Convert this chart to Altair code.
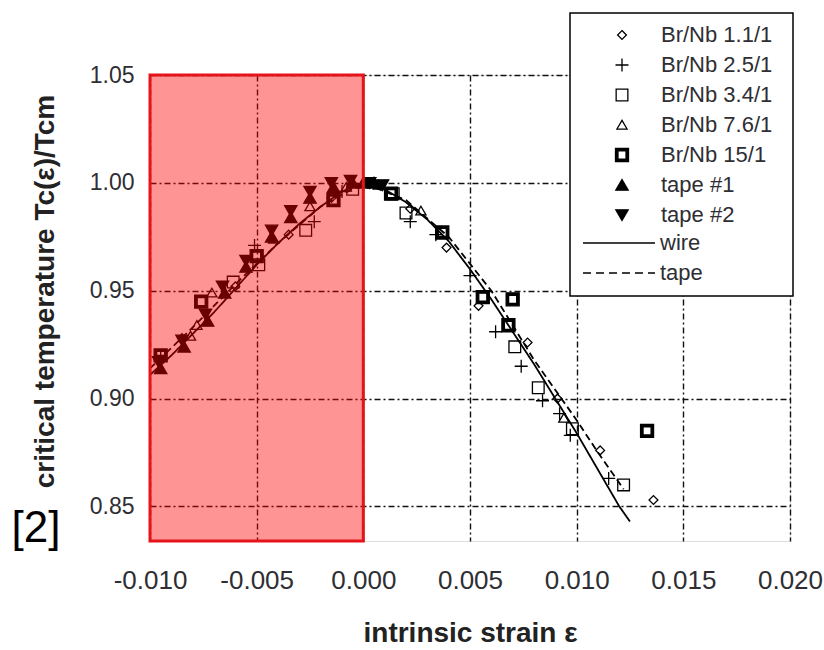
import altair as alt
import pandas as pd

# ---------------- data ----------------
series_names = ["Br/Nb 1.1/1", "Br/Nb 2.5/1", "Br/Nb 3.4/1", "Br/Nb 7.6/1",
                "Br/Nb 15/1", "tape #1", "tape #2"]

br11_x = [-0.0085, -0.0060, -0.0035, -0.0015, 0.0005, 0.0022, 0.0039, 0.0054, 0.0077, 0.0091, 0.0111, 0.0136]
br11_y = [0.928, 0.952, 0.976, 0.993, 1.000, 0.988, 0.970, 0.943, 0.926, 0.900, 0.876, 0.853]

br25_x = [-0.0095, -0.0051, -0.0023, -0.0010, 0.0022, 0.0034, 0.0050, 0.0062, 0.0074, 0.0084, 0.0092, 0.0097, 0.0115]
br25_y = [0.920, 0.971, 0.982, 0.996, 0.982, 0.976, 0.957, 0.931, 0.915, 0.899, 0.893, 0.883, 0.863]

br34_x = [-0.0061, -0.0049, -0.0027, -0.0005, 0.0014, 0.0020, 0.0071, 0.0082, 0.0098, 0.0122]
br34_y = [0.954, 0.962, 0.978, 0.997, 0.995, 0.986, 0.924, 0.905, 0.886, 0.860]

br76_x = [-0.0081, -0.0078, -0.0071, -0.0042, -0.0025, -0.0008, 0.0007, 0.0027, 0.0094]
br76_y = [0.929, 0.934, 0.949, 0.974, 0.989, 0.998, 0.999, 0.987, 0.891]

br15_x = [-0.0095, -0.0076, -0.0050, -0.0014, 0.0013, 0.0037, 0.0056, 0.0068, 0.0070, 0.0133]
br15_y = [0.920, 0.945, 0.966, 0.992, 0.995, 0.977, 0.947, 0.934, 0.946, 0.885]

tape1_x = [-0.0095, -0.0084, -0.0073, -0.0065, -0.0055, -0.0043, -0.0034, -0.0025, -0.0014, -0.0005, 0.0000, 0.0005]
tape1_y = [0.914, 0.924, 0.936, 0.949, 0.961, 0.975, 0.984, 0.993, 0.998, 1.000, 1.000, 1.000]

tape2_x = [-0.0096, -0.0085, -0.0074, -0.0066, -0.0055, -0.0043, -0.0034, -0.0025, -0.0015, -0.0006, 0.0003, 0.0009]
tape2_y = [0.917, 0.927, 0.939, 0.952, 0.964, 0.978, 0.987, 0.996, 1.000, 1.001, 1.000, 0.999]

wire_x = [-0.0100, -0.0090, -0.0080, -0.0070, -0.0060, -0.0050, -0.0040, -0.0030, -0.0020, -0.0010, 0.0000,
          0.0010, 0.0020, 0.0030, 0.0040, 0.0050, 0.0060, 0.0070, 0.0080, 0.0090, 0.0100, 0.0110, 0.0120, 0.0125]
wire_y = [0.911, 0.920, 0.930, 0.940, 0.951, 0.962, 0.972, 0.981, 0.989, 0.996, 1.000,
          0.997, 0.991, 0.983, 0.973, 0.960, 0.946, 0.931, 0.916, 0.900, 0.884, 0.867, 0.850, 0.843]

tape_x = [-0.0100, -0.0080, -0.0060, -0.0040, -0.0020, 0.0000, 0.0020, 0.0040, 0.0060, 0.0080, 0.0090, 0.0100, 0.0110, 0.0122]
tape_y = [0.914, 0.933, 0.953, 0.972, 0.989, 1.000, 0.992, 0.975, 0.950, 0.918, 0.904, 0.890, 0.875, 0.858]

shade_x = [-0.010]
shade_x2 = [0.000]

x_ticks = [-0.010, -0.005, 0.000, 0.005, 0.010, 0.015, 0.020]
y_ticks = [0.85, 0.90, 0.95, 1.00, 1.05]
X_MIN, X_MAX = -0.010, 0.020
Y_MIN, Y_MAX = 0.834, 1.05

# ---------------- tables ----------------
point_sets = [(br11_x, br11_y), (br25_x, br25_y), (br34_x, br34_y), (br76_x, br76_y),
              (br15_x, br15_y), (tape1_x, tape1_y), (tape2_x, tape2_y)]
rows = []
for name, (xs, ys) in zip(series_names, point_sets):
    for xv, yv in zip(xs, ys):
        rows.append({"x": xv, "y": yv, "series": name})
pts = pd.DataFrame(rows)

line_rows = [{"x": a, "y": b, "curve": "wire"} for a, b in zip(wire_x, wire_y)] + \
            [{"x": a, "y": b, "curve": "tape"} for a, b in zip(tape_x, tape_y)]
lines_df = pd.DataFrame(line_rows)

shade_df = pd.DataFrame({"x": shade_x, "x2": shade_x2})
one = pd.DataFrame({"k": [0]})

FONT = "Liberation Sans"
LBL = "#2e2e33"

shape_paths = [
    "M0,-0.68L0.68,0L0,0.68L-0.68,0Z",                               # diamond
    "M-1,0L1,0M0,-1L0,1",                                             # plus
    "M-0.9,-0.9L0.9,-0.9L0.9,0.9L-0.9,0.9Z",                          # thin square
    "M0,-0.72L0.78,0.62L-0.78,0.62Z",                                 # open triangle
    "M-1,-1L1,-1L1,1L-1,1Z M-0.62,-0.62L-0.62,0.62L0.62,0.62L0.62,-0.62Z",  # bold square
    "M0,-0.85L0.95,0.8L-0.95,0.8Z",                                   # filled triangle up
    "M0,0.85L0.95,-0.8L-0.95,-0.8Z",                                  # filled triangle down
]
fills = ["transparent", "transparent", "transparent", "transparent", "black", "black", "black"]
strokes = ["black"] * 7

xscale = alt.Scale(domain=[X_MIN, X_MAX], nice=False, zero=False)
yscale = alt.Scale(domain=[Y_MIN, Y_MAX], nice=False, zero=False)

GRID = dict(grid=True, gridDash=[6, 3, 2, 3], gridColor="#111", gridWidth=1.4, gridOpacity=1)

xaxis = alt.Axis(values=x_ticks, labelExpr="replace(format(datum.value, '.3f'), '\u2212', '-')",
                 labelFontSize=26, labelFont=FONT, labelColor=LBL, labelPadding=26, labelFlush=False,
                 ticks=False, domain=False, **GRID,
                 title="intrinsic strain \u03b5", titleFontSize=28, titleFont=FONT,
                 titleFontWeight="bold", titleColor="#222", titleY=100, titleBaseline="alphabetic")
yaxis = alt.Axis(values=y_ticks, format=".2f", labelFontSize=23, labelFont=FONT, labelColor=LBL,
                 labelPadding=16, ticks=False, domain=False, labelFlush=False, **GRID,
                 title="critical temperature Tc(\u03b5)/Tcm", titleFontSize=28, titleFont=FONT,
                 titleFontWeight="bold", titleColor="#222", titleX=-105, titleY=216,
                 titleBaseline="middle", titleAlign="center", titleAngle=270)

legend = alt.Legend(title=None, orient="none", legendX=461, legendY=-51, labelFontSize=22,
                    labelFont=FONT, labelColor=LBL, rowPadding=8, labelOffset=28, padding=0,
                    symbolSize=169, symbolStrokeColor="black", symbolStrokeWidth=1.3)

points = alt.Chart(pts).mark_point(strokeWidth=1.3, size=169, opacity=1).encode(
    x=alt.X("x:Q", scale=xscale, axis=xaxis),
    y=alt.Y("y:Q", scale=yscale, axis=yaxis),
    shape=alt.Shape("series:N", scale=alt.Scale(domain=series_names, range=shape_paths), legend=legend),
    fill=alt.Fill("series:N", scale=alt.Scale(domain=series_names, range=fills), legend=legend),
    stroke=alt.Stroke("series:N", scale=alt.Scale(domain=series_names, range=strokes), legend=legend),
)

lines = alt.Chart(lines_df).mark_line(color="black", strokeWidth=1.8).encode(
    x="x:Q", y="y:Q",
    detail="curve:N",
    strokeDash=alt.StrokeDash("curve:N", scale=alt.Scale(domain=["wire", "tape"], range=[[1, 0], [7, 4]]),
                              legend=None),
)

shade = alt.Chart(shade_df).mark_rect(fill="#ff0000", fillOpacity=0.42, stroke="#e5141a",
                                      strokeWidth=3).encode(
    x="x:Q", x2="x2:Q", y=alt.datum(Y_MIN), y2=alt.datum(Y_MAX)
)

box = alt.Chart(one).mark_rect(fill="white", stroke="black", strokeWidth=1.5).encode(
    x=alt.value(420), x2=alt.value(643), y=alt.value(-62), y2=alt.value(221)
)
wire_key = alt.Chart(one).mark_rule(color="black", strokeWidth=1.5).encode(
    x=alt.value(433), x2=alt.value(505), y=alt.value(168)
)
tape_key = alt.Chart(one).mark_rule(color="black", strokeWidth=1.5, strokeDash=[8, 5]).encode(
    x=alt.value(433), x2=alt.value(505), y=alt.value(198)
)
wire_txt = alt.Chart(one).mark_text(align="left", baseline="middle", fontSize=22, font=FONT,
                                    color=LBL).encode(x=alt.value(510), y=alt.value(168),
                                                      text=alt.value("wire"))
tape_txt = alt.Chart(one).mark_text(align="left", baseline="middle", fontSize=22, font=FONT,
                                    color=LBL).encode(x=alt.value(510), y=alt.value(198),
                                                      text=alt.value("tape"))
ref_txt = alt.Chart(one).mark_text(align="center", baseline="middle", fontSize=44, font=FONT,
                                   color="black").encode(x=alt.value(-114), y=alt.value(454),
                                                         text=alt.value("[2]"))

chart = alt.layer(points, lines, shade, box, wire_key, tape_key, wire_txt, tape_txt, ref_txt).properties(
    width=640, height=466,
    autosize=alt.AutoSizeParams(type="none"),
    padding={"left": 150, "top": 75, "right": 34, "bottom": 109},
).configure_view(stroke="black", strokeWidth=1.5).configure(background="white")

chart.save("out.html", embed_options={"renderer": "svg", "actions": False})
